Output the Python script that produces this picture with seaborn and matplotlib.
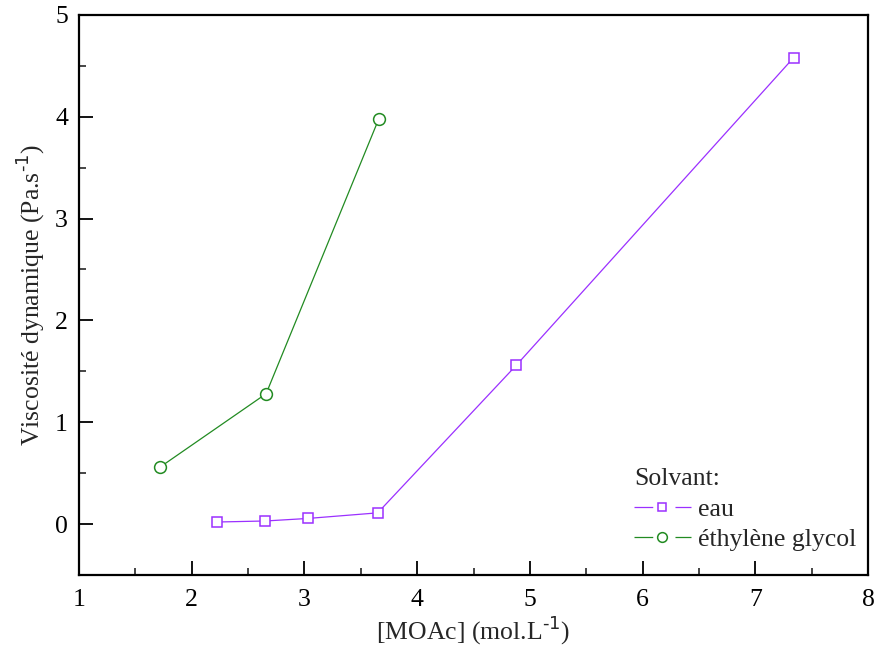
import numpy as np
import pandas as pd
from matplotlib import pyplot as plt
from matplotlib.lines import Line2D
from matplotlib.legend_handler import HandlerTuple
import seaborn as sns

# data
eau_x = [2.22, 2.65, 3.03, 3.65, 4.88, 7.34]
eau_y = [0.02, 0.03, 0.055, 0.11, 1.56, 4.58]
eg_x = [1.72, 2.66, 3.66]
eg_y = [0.56, 1.28, 3.98]
labels = ['eau', 'éthylène glycol']

df_eau = pd.DataFrame({'x': eau_x, 'y': eau_y})
df_eg = pd.DataFrame({'x': eg_x, 'y': eg_y})

sns.set_style('ticks')
plt.rcParams['font.family'] = ['Liberation Serif', 'DejaVu Serif']
plt.rcParams.update({'font.size': 18.5, 'lines.scale_dashes': False})

purple = '#9B30FF'
green = '#228B22'
fs = 18.5

fig = plt.figure(figsize=(8.75, 6.48), dpi=100)
ax = fig.add_axes([0.0903, 0.1127, 0.9017, 0.8643])

sns.lineplot(data=df_eau, x='x', y='y', ax=ax, color=purple, marker='s', markersize=7,
             mfc='white', mec=purple, mew=1.1, lw=0.9, sort=False)
sns.lineplot(data=df_eg, x='x', y='y', ax=ax, color=green, marker='o', markersize=8.5,
             mfc='white', mec=green, mew=1.1, lw=0.9, sort=False)

ax.set_xlim(1, 8)
ax.set_ylim(-0.5, 5)
ax.set_xticks(range(1, 9))
ax.set_yticks(range(0, 6))
ax.set_xticks(np.arange(1.5, 8, 1), minor=True)
ax.set_yticks(np.arange(-0.5, 5, 1), minor=True)
ax.tick_params(which='major', direction='in', length=10, width=1.3, labelsize=fs,
               colors='black')
ax.tick_params(axis='y', which='major', pad=8)
ax.tick_params(axis='x', which='major', pad=10)
ax.tick_params(which='minor', direction='in', length=5, width=1.2)
for s in ax.spines.values():
    s.set_linewidth(1.6)
    s.set_color('black')

ax.set_xlabel('[MOAc] (mol.L$^{\\text{-1}}$)', fontsize=fs, labelpad=2)
ax.set_ylabel('Viscosité dynamique (Pa.s$^{\\text{-1}}$)', fontsize=fs, labelpad=6)

# legend handles: line broken around the open marker
dash = (13.5, 16, 12, 100)
h_eau = (Line2D([], [], color=purple, lw=0.9, dashes=dash),
         Line2D([], [], ls='none', marker='s', markersize=6, mfc='white', mec=purple, mew=1.1))
h_eg = (Line2D([], [], color=green, lw=0.9, dashes=dash),
        Line2D([], [], ls='none', marker='o', markersize=7, mfc='white', mec=green, mew=1.1))
leg = ax.legend([h_eau, h_eg], labels, title='Solvant:', loc='lower right',
                bbox_to_anchor=(1.015, 0.002), frameon=False, fontsize=fs, title_fontsize=fs,
                handlelength=2.2, handletextpad=0.3, labelspacing=0.28, alignment='left',
                handler_map={tuple: HandlerTuple(ndivide=1)})

plt.savefig('out.png', dpi=100)
